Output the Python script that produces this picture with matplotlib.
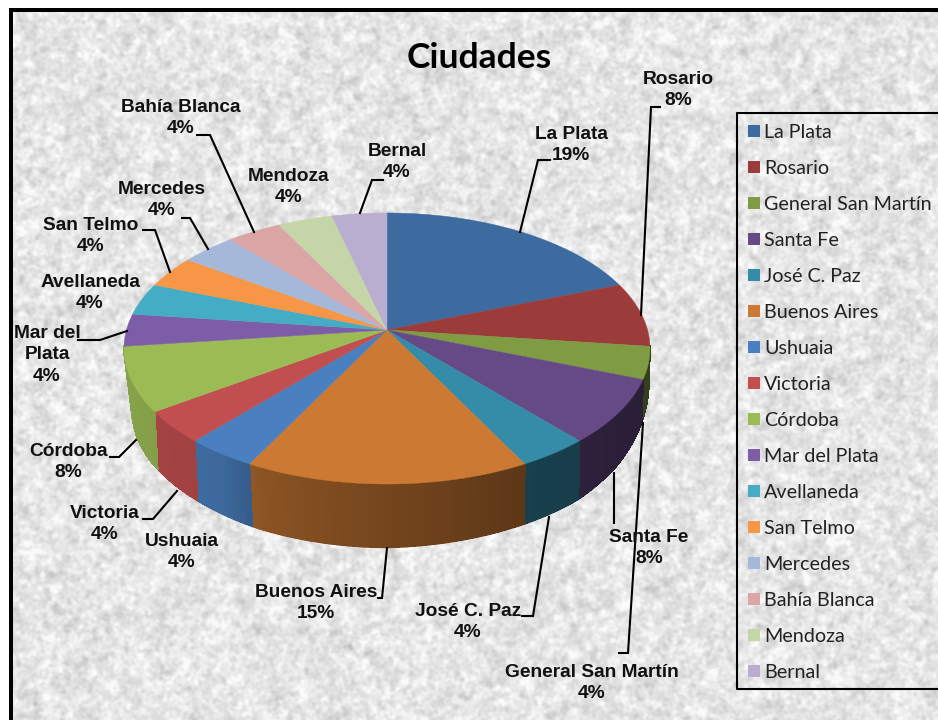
"""
Ciudades: Excel style 3D pie, drawn by hand with a perspective mapping
"""

import numpy as np
import matplotlib
matplotlib.use("Agg")
import matplotlib.pyplot as plt
from matplotlib.patches import Polygon, Rectangle
from matplotlib.collections import PolyCollection

ciudades = ['La Plata', 'Rosario', 'General San Martín', 'Santa Fe', 'José C. Paz',
            'Buenos Aires', 'Ushuaia', 'Victoria', 'Córdoba', 'Mar del Plata',
            'Avellaneda', 'San Telmo', 'Mercedes', 'Bahía Blanca', 'Mendoza', 'Bernal']
# counts behind the percentages on the labels (1 = 4%, 2 = 8%, 4 = 15%, 5 = 19%)
cuenta = [5, 2, 1, 2, 1, 4, 1, 1, 2, 1, 1, 1, 1, 1, 1, 1]
colores = ['#3d6a9f', '#9c3c3a', '#7f9c44', '#664a85', '#358ca8', '#cc7a33',
           '#4a80c0', '#c24f4f', '#9bbb55', '#7d5da8', '#45acc6', '#f79646',
           '#a5b8da', '#dba5a5', '#c4d6a8', '#b9aed0']

W, H = 938, 720

# pie geometry, pixels
cx, cy = 387, 330
A, B, k = 260.5, 133, 0.1365

# side wall profile per angle (deg clockwise from the back)
ang_prof = [90, 110.8, 125, 138.5, 180, 207.7, 235, 250, 263, 275]
depth_prof = [26, 43, 53, 59, 64, 63, 58, 58, 48, 30]
dx_prof = [-1, -1, -1, -1, 0, 3, 3, 6, 7, 5]
ang_shade = [90, 120, 155, 205, 215, 235, 270]
shade_prof = [0.40, 0.42, 0.46, 0.68, 0.82, 0.85, 0.88]
# only General San Martín .. Córdoba show a wall
lado_ini, lado_fin = 2, 8

# label text centre (first line) and leaders
etq_x = [571, 678, 592, 649, 468, 316, 182, 105, 68, 47, 90, 91, 162, 181, 289, 397]
etq_y = [133, 78, 671, 536, 610, 591, 540, 512, 450, 332, 281, 224, 188, 106, 175, 150]
etq_txt = ['La Plata', 'Rosario', 'General San Martín', 'Santa Fe', 'José C. Paz',
           'Buenos Aires', 'Ushuaia', 'Victoria', 'Córdoba', 'Mar del\nPlata',
           'Avellaneda', 'San Telmo', 'Mercedes', 'Bahía Blanca', 'Mendoza', 'Bernal']
lideres = [
    [(550, 160), (538, 160), (520, 232)],
    [(660, 107), (651, 107), (641, 315)],
    [(619, 653), (628, 653), (643, 423)],
    [(614, 523), (614, 473)],
    [(522, 616), (533, 616), (549, 517)],
    [(378, 598), (382, 598), (387, 548)],
    [(143, 519), (153, 519), (177, 491)],
    [(110, 457), (119, 457), (136, 440)],
    [(78, 340), (100, 340), (127, 331)],
    [(143, 230), (155, 230), (170, 272)],
    [(182, 218), (190, 218), (208, 249)],
    [(197, 135), (210, 135), (254, 232)],
    [(383, 180), (372, 180), (360, 213)],
]


def top_point(theta):
    # theta in degrees, clockwise from the back of the pie
    t = np.radians(theta)
    u, v = np.sin(t), np.cos(t)
    w = 1 + k * v
    return cx + A * u / w, cy - B * v / w


def bottom_point(theta):
    x, y = top_point(theta)
    return x + np.interp(theta, ang_prof, dx_prof), y + np.interp(theta, ang_prof, depth_prof)


def stone_texture():
    # only the paper-like background, not chart data
    rng = np.random.default_rng(3)
    noise = rng.normal(size=(H, W))
    fy = np.fft.fftfreq(H)[:, None]
    fx = np.fft.rfftfreq(W)[None, :]
    fine = np.fft.irfft2(np.fft.rfft2(noise) * np.exp(-(fx**2 + fy**2) * 40), s=(H, W))
    coarse = np.fft.irfft2(np.fft.rfft2(noise) * np.exp(-(fx**2 + fy**2) * 300), s=(H, W))
    tex = 0.8 * fine / fine.std() + 0.45 * coarse / coarse.std()
    return np.clip(229 + 8 * tex, 185, 250) / 255


fig = plt.figure(figsize=(W / 100, H / 100), dpi=100)
ax = fig.add_axes([0, 0, 1, 1])
ax.set_xlim(0, W)
ax.set_ylim(H, 0)
ax.axis('off')

ax.imshow(stone_texture(), cmap='gray', vmin=0, vmax=1, extent=(0, W, H, 0),
          aspect='auto', zorder=0)

# outer frame: only the left and top sides fall inside the picture
ax.add_patch(Rectangle((0, 0), W, 8, fc='white', ec='none', zorder=1))
ax.add_patch(Rectangle((0, 0), 9, H, fc='white', ec='none', zorder=1))
ax.add_patch(Rectangle((9, 8), W, 4, fc='black', ec='none', zorder=1))
ax.add_patch(Rectangle((9, 8), 4, H, fc='black', ec='none', zorder=1))

bordes = np.cumsum([0] + cuenta) / sum(cuenta) * 360

# side wall: a smooth base polygon, then thin shaded quads without antialiasing on top
for i in range(lado_ini, lado_fin + 1):
    rgb = np.array(matplotlib.colors.to_rgb(colores[i]))
    ini, fin = bordes[i], bordes[i + 1]
    tt = np.linspace(ini, fin, max(int((fin - ini) * 2), 2))
    xa, ya = top_point(tt)
    xb, yb = bottom_point(tt)
    base = rgb * np.interp((ini + fin) / 2, ang_shade, shade_prof)
    ax.add_patch(Polygon(list(zip(xa, ya)) + list(zip(xb, yb))[::-1], closed=True,
                         fc=base, ec=base, lw=0.3, zorder=2))
    # stop the quads just short of the lower edge, the base polygon keeps that edge smooth
    quads, tonos = [], []
    for j in range(len(tt) - 1):
        quads.append([(xa[j], ya[j]), (xa[j + 1], ya[j + 1]),
                       (xb[j + 1], yb[j + 1] - 1), (xb[j], yb[j] - 1)])
        tonos.append(rgb * np.interp((tt[j] + tt[j + 1]) / 2, ang_shade, shade_prof))
    ax.add_collection(PolyCollection(quads, facecolors=tonos, edgecolors=tonos,
                                     linewidths=0.6, antialiaseds=False, zorder=2.5))

# top face
for i, col in enumerate(colores):
    tt = np.linspace(bordes[i], bordes[i + 1], 80)
    xs, ys = top_point(tt)
    pts = [(cx, cy)] + list(zip(xs, ys))
    ax.add_patch(Polygon(pts, closed=True, fc=col, ec=col, lw=0.3, zorder=3))

for pts in lideres:
    xs, ys = zip(*pts)
    ax.plot(xs, ys, color='black', lw=1.5, solid_joinstyle='miter', zorder=4)

for x, y, txt, c in zip(etq_x, etq_y, etq_txt, cuenta):
    pct = f"{round(100 * c / sum(cuenta))}%"
    ax.text(x, y - 7, f"{txt}\n{pct}", ha='center', va='top',
            family='Liberation Sans', fontweight='bold', fontsize=13.8, color='#111111',
            linespacing=1.33, zorder=5)

ax.text(479, 58, 'Ciudades', ha='center', va='center', family='Lato', fontweight='bold',
        fontsize=25.5, color='black', zorder=5)

# legend box runs off the right edge
ax.plot([W + 5, 737, 737, W + 5], [113, 113, 689, 689], color='black', lw=1.5, zorder=4)
for i, (nombre, col) in enumerate(zip(ciudades, colores)):
    y = 131 + 36 * i
    ax.add_patch(Rectangle((748, y - 6), 12, 12, fc=col, ec='none', zorder=5))
    ax.text(764, y + 1, nombre, ha='left', va='center', family='Lato', fontsize=14.2,
            color='#222222', zorder=5)

fig.savefig('out.png', dpi=100)
